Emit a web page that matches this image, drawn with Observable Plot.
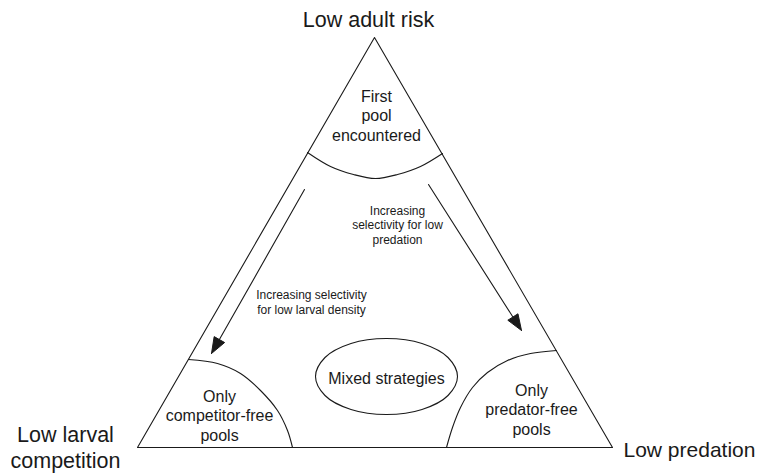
<!DOCTYPE html>
<html>
<head>
<meta charset="utf-8">
<script src="https://cdn.jsdelivr.net/npm/d3@7"></script>
<script src="https://cdn.jsdelivr.net/npm/@observablehq/plot@0.6"></script>
<style>
  html, body { margin: 0; padding: 0; background: #fff; }
  #chart svg { display: block; }
</style>
</head>
<body>
<div id="chart"></div>
<script>
// Triangle corners (diagram units)
const cornerX = [374, 137, 612];
const cornerY = [37, 447, 447];

// Boundary arcs, points
const topArcX = [307, 330, 353, 375, 397, 420, 442];
const topArcY = [152, 166, 174, 178, 174, 166, 153];
const leftArcX = [188, 217, 240, 260, 277, 287, 292];
const leftArcY = [359, 363, 373, 390, 410, 430, 447];
const rightArcX = [556, 530, 507, 487, 472, 460, 452, 446];
const rightArcY = [350, 353, 360, 372, 387, 407, 427, 447];

// "Mixed strategies" oval outline points
const ovalX = [457, 447.5, 421.5, 386, 350.5, 324.5, 315, 324.5, 350.5, 386, 421.5, 447.5];
const ovalY = [376, 357, 343, 338, 343, 357, 376, 395, 409, 414, 409, 395];

// Arrows: start -> tip
const arrowX1 = [304, 428];
const arrowY1 = [189, 184];
const arrowX2 = [211, 521];
const arrowY2 = [353, 330];

// Labels
const cornerLabels = ["Low adult risk", "Low larval\ncompetition", "Low predation"];
const cornerLabelX = [368, 65, 623];
const cornerLabelY = [26, 467, 456];
const cornerAnchor = ["middle", "middle", "start"];

const regionLabels = ["First\npool\nencountered", "Only\ncompetitor-free\npools", "Only\npredator-free\npools", "Mixed strategies"];
const regionLabelX = [376, 219, 531, 386];
const regionLabelY = [140, 440, 434, 383];

const arrowLabels = ["Increasing\nselectivity for low\npredation", "Increasing selectivity\nfor low larval density"];
const arrowLabelX = [397, 311];
const arrowLabelY = [243, 313];

// ---- build tables ----
const tri = cornerX.map((x, i) => ({x, y: cornerY[i]}));
const arc = (xs, ys) => xs.map((x, i) => ({x, y: ys[i]}));
const oval = arc(ovalX, ovalY);

const shafts = [];
const heads = [];
const headLen = 16, headHalf = 6;
arrowX1.forEach((x1, i) => {
  const y1 = arrowY1[i], x2 = arrowX2[i], y2 = arrowY2[i];
  const dx = x2 - x1, dy = y2 - y1, L = Math.hypot(dx, dy);
  const ux = dx / L, uy = dy / L;
  const bx = x2 - ux * headLen, by = y2 - uy * headLen;
  shafts.push({id: i, x: x1, y: y1}, {id: i, x: bx, y: by});
  heads.push(
    {id: i, x: x2, y: y2},
    {id: i, x: bx - uy * headHalf, y: by + ux * headHalf},
    {id: i, x: bx + uy * headHalf, y: by - ux * headHalf},
    {id: i, x: x2, y: y2}
  );
});

const corners = cornerLabels.map((t, i) => ({t, x: cornerLabelX[i], y: cornerLabelY[i], a: cornerAnchor[i]}));
const regions = regionLabels.map((t, i) => ({t, x: regionLabelX[i], y: regionLabelY[i]}));
const arrowsText = arrowLabels.map((t, i) => ({t, x: arrowLabelX[i], y: arrowLabelY[i]}));

const ink = "#1a1a1a";
const font = "Liberation Sans, Arial, Helvetica, sans-serif";

const chart = Plot.plot({
  width: 763,
  height: 475,
  margin: 0,
  style: {fontFamily: font, background: "#fff"},
  x: {domain: [0, 763], range: [0, 763], axis: null},
  y: {domain: [0, 475], range: [0, 475], axis: null},
  marks: [
    Plot.line(tri, {x: "x", y: "y", curve: "linear-closed", stroke: ink, strokeWidth: 1.1}),
    Plot.line(arc(topArcX, topArcY), {x: "x", y: "y", curve: "catmull-rom", stroke: ink, strokeWidth: 1.1}),
    Plot.line(arc(leftArcX, leftArcY), {x: "x", y: "y", curve: "catmull-rom", stroke: ink, strokeWidth: 1.1}),
    Plot.line(arc(rightArcX, rightArcY), {x: "x", y: "y", curve: "catmull-rom", stroke: ink, strokeWidth: 1.1}),
    Plot.line(oval, {x: "x", y: "y", curve: "catmull-rom-closed", stroke: ink, strokeWidth: 1.1}),
    Plot.line(shafts, {x: "x", y: "y", z: "id", stroke: ink, strokeWidth: 1.1}),
    Plot.line(heads, {x: "x", y: "y", z: "id", stroke: ink, strokeWidth: 1, fill: ink}),
    Plot.text(corners.filter(d => d.a === "middle"), {x: "x", y: "y", text: "t", textAnchor: "middle", lineAnchor: "bottom", lineHeight: 1.19, fontSize: 21.5, fill: ink}),
    Plot.text(corners.filter(d => d.a === "start"), {x: "x", y: "y", text: "t", textAnchor: "start", lineAnchor: "bottom", lineHeight: 1.19, fontSize: 21, fill: ink}),
    Plot.text(regions, {x: "x", y: "y", text: "t", lineAnchor: "bottom", lineHeight: 1.2, fontSize: 16, fill: ink}),
    Plot.text(arrowsText, {x: "x", y: "y", text: "t", lineAnchor: "bottom", lineHeight: 1.2, fontSize: 12, fill: ink})
  ]
});
document.getElementById("chart").appendChild(chart);
</script>
</body>
</html>
